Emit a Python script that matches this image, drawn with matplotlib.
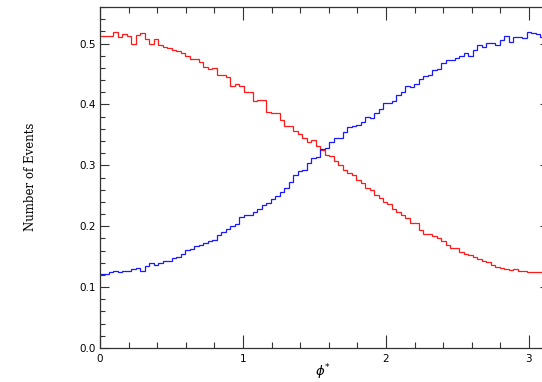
import numpy as np
import matplotlib
matplotlib.use("Agg")
import matplotlib.pyplot as plt
from matplotlib.ticker import MultipleLocator

# ---- data ----
n_bins = 100
x_min, x_max = 0.0, np.pi

red_values = [
    0.513, 0.513, 0.512, 0.519, 0.511, 0.516, 0.513, 0.500, 0.514, 0.517,
    0.507, 0.500, 0.508, 0.497, 0.494, 0.493, 0.490, 0.487, 0.485, 0.480,
    0.474, 0.475, 0.469, 0.461, 0.459, 0.460, 0.449, 0.449, 0.445, 0.430,
    0.433, 0.430, 0.421, 0.420, 0.405, 0.407, 0.407, 0.387, 0.386, 0.386,
    0.375, 0.364, 0.365, 0.357, 0.351, 0.345, 0.339, 0.341, 0.331, 0.325,
    0.317, 0.316, 0.307, 0.300, 0.292, 0.287, 0.284, 0.276, 0.271, 0.262,
    0.259, 0.251, 0.246, 0.240, 0.236, 0.229, 0.224, 0.219, 0.213, 0.206,
    0.205, 0.194, 0.188, 0.188, 0.184, 0.181, 0.175, 0.169, 0.165, 0.164,
    0.158, 0.155, 0.152, 0.150, 0.146, 0.143, 0.141, 0.136, 0.133, 0.132,
    0.130, 0.128, 0.129, 0.127, 0.127, 0.125, 0.125, 0.125, 0.125, 0.125,
]

blue_values = [
    0.121, 0.121, 0.124, 0.126, 0.124, 0.127, 0.127, 0.130, 0.132, 0.127,
    0.134, 0.139, 0.136, 0.140, 0.143, 0.143, 0.147, 0.150, 0.154, 0.161,
    0.163, 0.167, 0.169, 0.173, 0.175, 0.178, 0.185, 0.191, 0.195, 0.200,
    0.203, 0.215, 0.218, 0.219, 0.224, 0.229, 0.235, 0.238, 0.245, 0.250,
    0.256, 0.262, 0.272, 0.284, 0.291, 0.292, 0.304, 0.312, 0.313, 0.326,
    0.329, 0.339, 0.345, 0.345, 0.354, 0.363, 0.364, 0.367, 0.371, 0.380,
    0.378, 0.386, 0.393, 0.402, 0.403, 0.405, 0.416, 0.421, 0.430, 0.428,
    0.434, 0.441, 0.446, 0.449, 0.457, 0.458, 0.468, 0.473, 0.473, 0.476,
    0.479, 0.484, 0.480, 0.490, 0.497, 0.495, 0.501, 0.501, 0.498, 0.505,
    0.513, 0.503, 0.511, 0.511, 0.509, 0.519, 0.517, 0.515, 0.511, 0.512,
]

x_ticks = [0, 1, 2, 3]
x_tick_labels = ["0", "1", "2", "3"]
y_ticks = [0.0, 0.1, 0.2, 0.3, 0.4, 0.5]
y_tick_labels = ["0.0", "0.1", "0.2", "0.3", "0.4", "0.5"]

# ---- figure ----
W, H = 542, 382
fig = plt.figure(figsize=(W / 100, H / 100), dpi=100)
ax_left, ax_right, ax_top, ax_bottom = 100, 549.2, 7, 348
ax = fig.add_axes([ax_left / W, 1 - ax_bottom / H,
                   (ax_right - ax_left) / W, (ax_bottom - ax_top) / H])

edges = np.linspace(x_min, x_max, n_bins + 1)
ax.stairs(red_values, edges, baseline=None, color="#ff1a1a", linewidth=0.9)
ax.stairs(blue_values, edges, baseline=None, color="#1a1aff", linewidth=0.9)

ax.set_xlim(x_min, x_max)
ax.set_ylim(0, 0.56)

ax.set_xticks(x_ticks)
ax.set_xticklabels(x_tick_labels)
ax.set_yticks(y_ticks)
ax.set_yticklabels(y_tick_labels)
ax.xaxis.set_minor_locator(MultipleLocator(0.2))
ax.yaxis.set_minor_locator(MultipleLocator(0.02))

tick_color = "#333333"
ax.tick_params(axis="both", which="both", direction="in", top=True, right=True,
               colors=tick_color, labelcolor="black", labelsize=7.5, width=0.8)
ax.tick_params(axis="x", which="major", length=9.5, pad=4)
ax.tick_params(axis="x", which="minor", length=4)
ax.tick_params(axis="y", which="major", length=6.5, pad=3)
ax.tick_params(axis="y", which="minor", length=3.5)
for lab in ax.get_xticklabels() + ax.get_yticklabels():
    lab.set_family("DejaVu Sans")
for sp in ax.spines.values():
    sp.set_color(tick_color)
    sp.set_linewidth(0.9)

fig.text(30 / W, 1 - 177 / H, "Number of Events", rotation=90,
         ha="center", va="center", family="DejaVu Serif", fontsize=8.5)
fig.text(323 / W, 1 - 372 / H, r"$\phi^{*}$", ha="center", va="center",
         fontsize=9.5)

fig.savefig("out.png", dpi=100)
